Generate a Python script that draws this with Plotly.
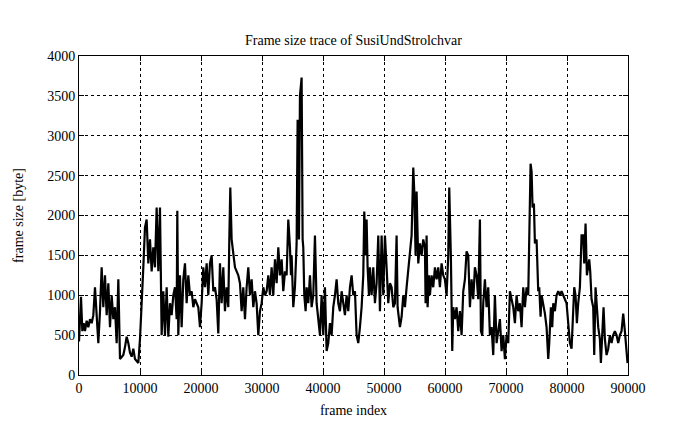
import plotly.graph_objects as go

frame_index = [
    0, 328, 546, 765, 983, 1257, 1530, 1803, 2076, 2349, 2622, 2895, 3168, 3442, 3715, 3988,
    4261, 4534, 4808, 5081, 5354, 5627, 5900, 6173, 6447, 6720, 6993, 7266, 7539, 7813, 8086,
    8359, 8632, 8905, 9178, 9451, 9725, 9998, 10271, 10544, 10817,
    11090, 11364, 11637, 11910, 12183, 12456, 12729, 13003, 13276, 13549, 13822, 14095, 14369,
    14642, 14915, 15188, 15461, 15734, 16008, 16117, 16281, 16554, 16827, 17100, 17373, 17647,
    17920, 18193, 18466, 18739, 19013, 19286, 19559, 19832, 20105, 20378, 20652, 20925, 21198,
    21471, 21744, 22017, 22291,
    22563, 22836, 23110, 23383, 23656, 23929, 24202, 24476, 24640, 24804, 25022, 25295, 25569,
    25842, 26115, 26388, 26661, 26935, 27208, 27481, 27754, 28027, 28301, 28574, 28847, 29120,
    29393, 29667, 29940, 30213, 30486, 30759, 31033, 31306, 31579, 31852, 32125, 32399, 32672,
    32945, 33218, 33491, 33765,
    34036, 34310, 34583, 34747, 34856, 35129, 35402, 35675, 35839, 36058, 36222, 36386, 36495,
    36659, 36768, 36932, 37151, 37314, 37588, 37861, 38134, 38407, 38680, 38954, 39227, 39500,
    39773, 40046, 40320, 40593, 40866, 41139, 41412, 41686, 41959, 42232, 42505, 42778, 43052,
    43325, 43598, 43871, 44144, 44418, 44691, 44964, 45237,
    45510, 45783, 46056, 46329, 46602, 46766, 46985, 47149, 47313, 47531, 47695, 47968, 48242,
    48515, 48788, 49061, 49334, 49608, 49881, 50154, 50427, 50700, 50974, 51247, 51520, 51793,
    52066, 52230, 52613, 52886, 53159, 53432, 53705, 53979, 54252, 54525, 54798, 54962, 55180,
    55344, 55617, 55891, 56164, 56437, 56710,
    56818, 56982, 57146, 57364, 57528, 57801, 58074, 58348, 58621, 58894, 59167, 59440, 59714,
    59987, 60260, 60533, 60697, 60970, 61189, 61353, 61626, 61899, 62172, 62445, 62719, 62992,
    63265, 63538, 63811, 64085, 64358, 64631, 64904, 65177, 65451, 65724, 65888, 66106, 66270,
    66543, 66816, 67089, 67363, 67636, 67909, 68182,
    68455, 68729, 69002, 69275, 69548, 69821, 70095, 70368, 70641, 70914, 71187, 71461, 71734,
    72007, 72280, 72553, 72827, 73100, 73373, 73646, 73810, 74029, 74193, 74356, 74575, 74739,
    75012, 75285, 75449, 75668, 75832, 76105, 76378, 76651, 76924, 77088, 77361, 77580, 77744,
    78017, 78290, 78563, 78837, 79110, 79383, 79656,
    79928, 80201, 80475, 80748, 81021, 81185, 81403, 81622, 81840, 82114, 82387, 82660, 82824,
    83042, 83261, 83480, 83643, 83807, 84026, 84299, 84463, 84681, 84900, 85118, 85391, 85555,
    85774, 85992, 86211, 86484, 86757, 87030, 87303, 87577, 87850, 88123, 88396, 88669, 88943,
    89216, 89489, 89762, 89925,
]

frame_size = [
    420, 980, 550, 650, 550, 680, 600, 700, 650, 750, 1100, 700, 400, 800, 1350, 850,
    1250, 750, 1150, 600, 1000, 700, 850, 400, 1200, 200, 220, 250, 350, 480, 400,
    280, 230, 330, 200, 180, 150, 450, 830, 1350, 1850,
    1950, 1400, 1700, 1300, 1600, 1350, 2100, 1300, 2100, 500, 1050, 500, 1100,
    480, 900, 750, 1000, 1100, 700, 2060, 500, 1250, 600, 1200, 1400, 900,
    1250, 1000, 1050, 850, 950, 900, 850, 600, 900, 1350, 1100, 1400, 1000,
    1400, 1500, 1050, 1100,
    950, 520, 1400, 900, 1350, 800, 1100, 850, 1700, 2350, 1700, 1500, 1350,
    1300, 1250, 1150, 800, 1100, 700, 1100, 1350, 1000, 1200, 850, 1050, 900,
    500, 800, 900, 1100, 1000, 1050, 1250, 1000, 1350, 1000, 1450, 1150, 1600,
    1250, 1450, 1050, 1300,
    1250, 1950, 1600, 1250, 1500, 850, 1100, 1650, 3200, 1700, 3500, 3700, 3730,
    1700, 1600, 1000, 800, 1100, 900, 1250, 850, 1000, 1750, 900, 730, 500,
    1000, 500, 1100, 300, 400, 650, 500, 850, 1000, 1200, 900, 800, 1050,
    900, 750, 1000, 800, 1100, 1250, 1000, 1050,
    500, 400, 600, 850, 1250, 2050, 1500, 1950, 1350, 1000, 1350, 1000, 1350,
    900, 1150, 1750, 800, 1750, 1000, 1750, 1350, 900, 1150, 1100, 850, 900,
    1750, 850, 600, 730, 1000, 850, 1100, 1350, 1600, 1750, 2600, 2300, 1500,
    2300, 1400, 1650, 1500, 1700, 1600,
    900, 1750, 850, 1250, 1000, 1250, 1100, 1350, 1200, 1350, 1100, 1400, 1250,
    1200, 1000, 1500, 2350, 1450, 300, 850, 700, 850, 550, 800, 500, 1050,
    1200, 1550, 1500, 850, 1200, 950, 1350, 1250, 950, 1950, 550, 500, 900,
    1200, 850, 1100, 500, 600, 250, 1000,
    400, 550, 700, 300, 500, 200, 500, 400, 1050, 950, 850, 650, 1000,
    800, 900, 600, 1100, 850, 1100, 1000, 1800, 2650, 2550, 2100, 2150, 1650,
    1700, 1050, 1100, 730, 1000, 900, 770, 600, 200, 400, 850, 600, 900,
    800, 1000, 1050, 1000, 1050, 1000, 950,
    900, 650, 400, 330, 770, 1100, 1000, 650, 900, 1100, 1750, 1750, 1400,
    1900, 1250, 1400, 1450, 1300, 950, 850, 250, 1100, 850, 600, 450, 150,
    500, 850, 450, 250, 330, 500, 400, 500, 550, 500, 400, 500, 550,
    770, 550, 250, 150,
]

x_ticks = [0, 10000, 20000, 30000, 40000, 50000, 60000, 70000, 80000, 90000]
y_ticks = [0, 500, 1000, 1500, 2000, 2500, 3000, 3500, 4000]

FONT = "Liberation Serif"

fig = go.Figure(
    go.Scatter(
        x=frame_index, y=frame_size, mode="lines",
        line=dict(color="black", width=2.2), showlegend=False,
    )
)

axis_common = dict(
    showline=True, linecolor="black", linewidth=1, mirror="ticks",
    ticks="inside", ticklen=5, tickcolor="black",
    showgrid=True, gridcolor="black", gridwidth=1, griddash="dot",
    zeroline=False, automargin=False,
    tickfont=dict(family=FONT, size=14, color="black"),
)

fig.update_xaxes(
    range=[0, 90000], tickvals=x_ticks, ticktext=[str(v) for v in x_ticks],
    title=dict(text="frame index", font=dict(family=FONT, size=14, color="black"), standoff=10),
    **axis_common,
)
fig.update_yaxes(
    range=[0, 4000], tickvals=y_ticks, ticktext=[str(v) for v in y_ticks],
    title=dict(text="frame size [byte]", font=dict(family=FONT, size=14, color="black"), standoff=20),
    **axis_common,
)

fig.update_layout(
    width=695, height=429,
    margin=dict(l=71, r=75, t=48, b=62),
    paper_bgcolor="white", plot_bgcolor="white",
    title=dict(
        text="Frame size trace of SusiUndStrolchvar",
        font=dict(family=FONT, size=14, color="black"),
        x=(71 + 620) / 2 / 695, xanchor="center",
        y=1 - 32 / 429, yanchor="middle", yref="container",
    ),
)

fig.write_html("out.html")
